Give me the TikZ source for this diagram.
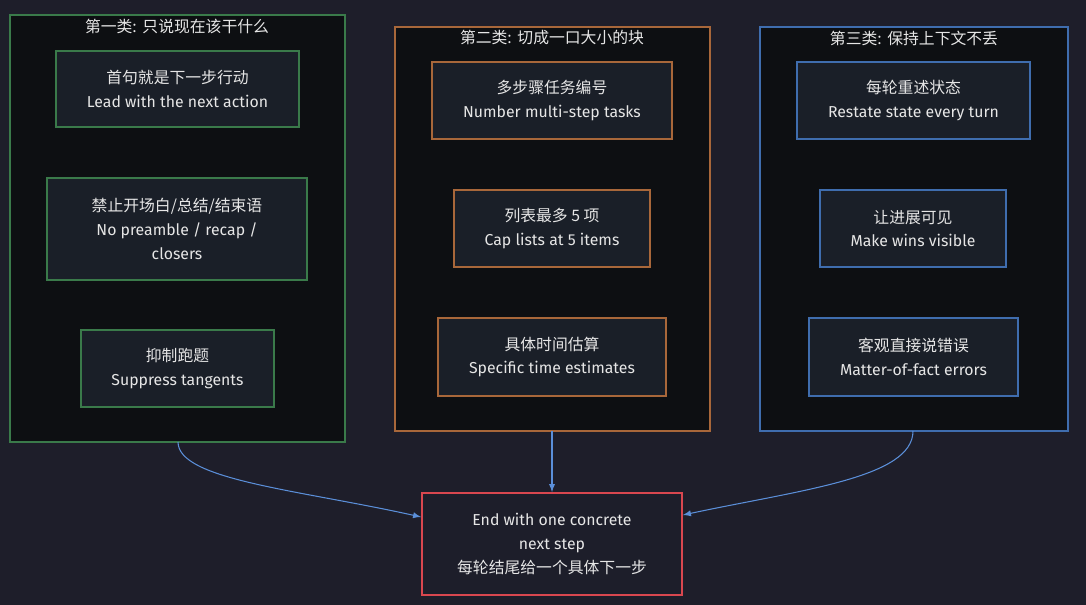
\documentclass[tikz,border=0pt]{standalone}
\usepackage{fontspec}
\setmainfont{Fira Sans}
\newfontfamily\cjk{Noto Sans CJK SC}
\definecolor{bgc}{HTML}{1E1E2A}
\definecolor{grpfill}{HTML}{0D0F12}
\definecolor{boxfill}{HTML}{1A1F28}
\definecolor{grn}{HTML}{3A7A4A}
\definecolor{org}{HTML}{A8673A}
\definecolor{blu}{HTML}{3F6DAE}
\definecolor{rd}{HTML}{D9474F}
\definecolor{arr}{HTML}{5B8FD9}
\definecolor{txt}{HTML}{E6E6E6}
\begin{document}
\begin{tikzpicture}[x=0.02cm,y=-0.02cm,font=\fontsize{9}{13.5}\selectfont,
grp/.style={draw=#1,fill=grpfill,line width=0.6pt},
item/.style={draw=#1,fill=boxfill,line width=0.6pt,text=txt,align=center},
grptitle/.style={text=txt,anchor=center},
flow/.style={draw=arr,line width=0.6pt,-latex}]
\fill[bgc] (0,0) rectangle (1086,605);
\useasboundingbox (0,0) rectangle (1086,605);
% groups
\draw[grp=grn] (10,15) rectangle (345,442);
\node[grptitle] (t1) at (177,26) {{\cjk 第一类:} {\cjk 只说现在该干什么}};
\draw[grp=org] (395,27) rectangle (710,431);
\node[grptitle] (t2) at (552,38) {{\cjk 第二类:} {\cjk 切成一口大小的块}};
\draw[grp=blu] (760,27) rectangle (1068,431);
\node[grptitle] (t3) at (914,38) {{\cjk 第三类:} {\cjk 保持上下文不丢}};
\coordinate (g1) at (178,442);
\coordinate (g2) at (552,431);
\coordinate (g3) at (913,431);
% items
\node[item=grn,minimum width=243*0.02cm,minimum height=76*0.02cm] (a1) at (177.5,89) {{\cjk 首句就是下一步行动}\\Lead with the next action};
\node[item=grn,minimum width=260*0.02cm,minimum height=102*0.02cm] (a2) at (177,229) {{\cjk 禁止开场白/总结/结束语}\\No preamble / recap /\\closers};
\node[item=grn,minimum width=193*0.02cm,minimum height=77*0.02cm] (a3) at (177.5,368.5) {{\cjk 抑制跑题}\\Suppress tangents};
\node[item=org,minimum width=240*0.02cm,minimum height=77*0.02cm] (b1) at (552,100.5) {{\cjk 多步骤任务编号}\\Number multi-step tasks};
\node[item=org,minimum width=196*0.02cm,minimum height=77*0.02cm] (b2) at (552,228.5) {{\cjk 列表最多 5 项}\\Cap lists at 5 items};
\node[item=org,minimum width=228*0.02cm,minimum height=78*0.02cm] (b3) at (552,357) {{\cjk 具体时间估算}\\Specific time estimates};
\node[item=blu,minimum width=233*0.02cm,minimum height=77*0.02cm] (c1) at (913.5,100.5) {{\cjk 每轮重述状态}\\Restate state every turn};
\node[item=blu,minimum width=186*0.02cm,minimum height=77*0.02cm] (c2) at (913,228.5) {{\cjk 让进展可见}\\Make wins visible};
\node[item=blu,minimum width=209*0.02cm,minimum height=78*0.02cm] (c3) at (913.5,357) {{\cjk 客观直接说错误}\\Matter-of-fact errors};
% goal
\node[item=rd,line width=1pt,fill=bgc!80!boxfill,minimum width=260*0.02cm,minimum height=102*0.02cm] (goal) at (552,544) {End with one concrete\\next step\\{\cjk 每轮结尾给一个具体下一步}};
\draw[flow] (g1) .. controls (178,480) and (300,490) .. (goal.west |- 0,517);
\draw[flow] (g2) -- (goal.north);
\draw[flow] (g3) .. controls (913,478) and (800,490) .. (goal.east |- 0,515);
\end{tikzpicture}
\end{document}
